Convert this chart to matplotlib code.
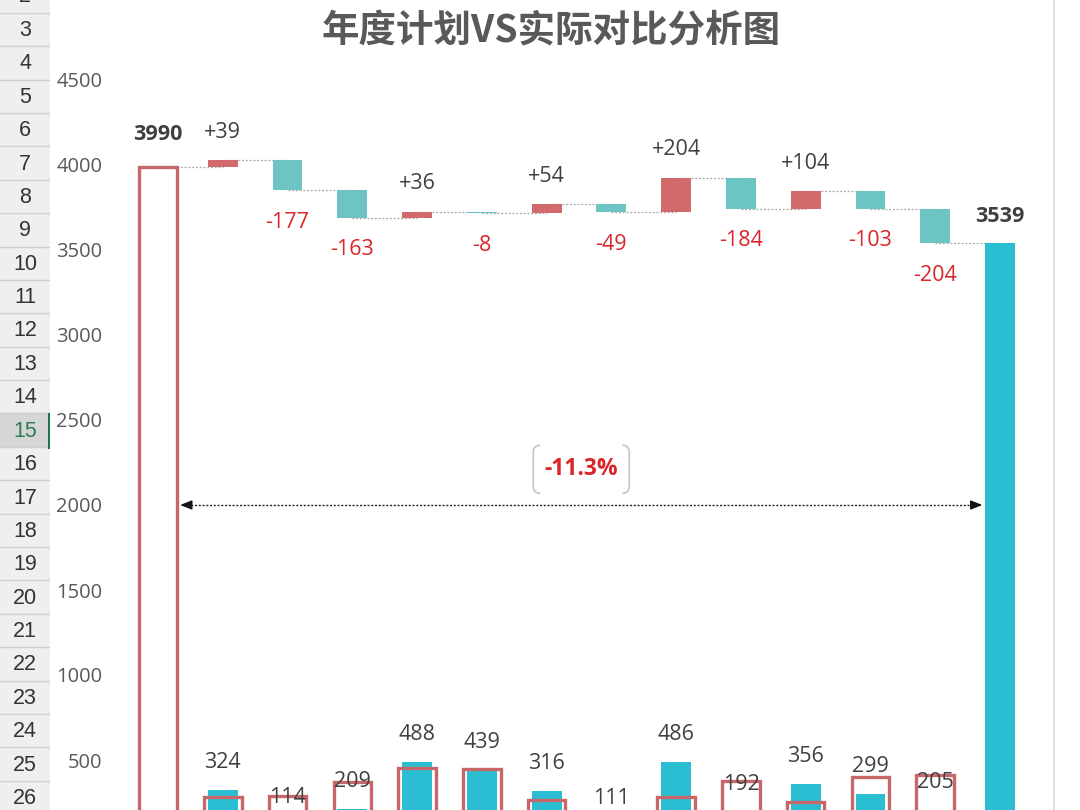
import matplotlib
matplotlib.use("Agg")
import matplotlib.pyplot as plt
import numpy as np
from matplotlib.path import Path
from matplotlib.patches import PathPatch, Rectangle
from matplotlib.transforms import IdentityTransform

plt.rcParams['font.family'] = ['Open Sans', 'Noto Sans CJK SC', 'DejaVu Sans']

# ---------------- data ----------------
title = "年度计划VS实际对比分析图"
plan = [285, 291, 372, 452, 447, 262, 160, 282, 376, 252, 402, 409]
actual = [324, 114, 209, 488, 439, 316, 111, 486, 192, 356, 299, 205]
yticks = [500, 1000, 1500, 2000, 2500, 3000, 3500, 4000, 4500]
row_numbers = list(range(2, 27))
selected_row = 15

plan_total = sum(plan)
actual_total = sum(actual)
diff = [a - p for a, p in zip(actual, plan)]
pct = (actual_total - plan_total) / plan_total * 100

# ---------------- style ----------------
C_UP = "#D26A6C"
C_DOWN = "#6CC5C2"
C_ACT = "#2BBDD1"
C_PLAN_EDGE = "#C8676A"
C_NEG_TXT = "#D8262B"
C_TXT = "#404040"
C_TICK = "#595959"
LBL = 15.5

W, H = 1080, 810
DPI = 100
fig = plt.figure(figsize=(W / DPI, H / DPI), dpi=DPI)
fig.patch.set_facecolor("white")

# pixel geometry of the plot
x0_px, x1_px = 105, 1054
top_px, bot_px = 60, 810
cx0, step = 158.0, 64.77          # pixel centre of first category, spacing
zero_px, ppu = 845.0, 0.17        # pixel of value 0, pixels per unit

ax = fig.add_axes([x0_px / W, 1 - bot_px / H, (x1_px - x0_px) / W, (bot_px - top_px) / H])
ax.set_xlim((x0_px - cx0) / step, (x1_px - cx0) / step)
ax.set_ylim((zero_px - bot_px) / ppu, (zero_px - top_px) / ppu)
ax.set_facecolor("none")
for s in ax.spines.values():
    s.set_visible(False)
ax.set_xticks([])
ax.set_yticks(yticks)
ax.set_yticklabels([str(t) for t in yticks])
ax.tick_params(axis='y', length=0, pad=2, labelsize=14.5, labelcolor=C_TICK)

n = len(plan)
idx = np.arange(1, n + 1)
w_act = 0.46
w_plan = 0.58
lw_plan = 2.4

# --- bottom bars: actual (filled) and plan (outline) ---
ax.bar(idx, actual, width=w_act, color=C_ACT, zorder=2)
ax.bar(idx, plan, width=w_plan, facecolor="none", edgecolor=C_PLAN_EDGE, linewidth=lw_plan, zorder=3)
for i, a in zip(idx, actual):
    ax.annotate(str(a), (i, a), xytext=(0, 20), textcoords="offset points",
                ha="center", va="center", fontsize=LBL, color=C_TXT, zorder=5,
                annotation_clip=False)

# --- totals ---
ax.bar([0], [plan_total], width=w_plan, facecolor="white", edgecolor=C_PLAN_EDGE, linewidth=lw_plan, zorder=3)
ax.bar([n + 1], [actual_total], width=w_act, color=C_ACT, zorder=2)
ax.annotate(str(plan_total), (0, plan_total), xytext=(0, 23), textcoords="offset points",
            ha="center", va="center", fontsize=15.5, fontweight="bold", color=C_TXT)
ax.annotate(str(actual_total), (n + 1, actual_total), xytext=(0, 19), textcoords="offset points",
            ha="center", va="center", fontsize=15.5, fontweight="bold", color=C_TXT)

# --- waterfall ---
level = plan_total
levels = [level]
for i, d in zip(idx, diff):
    bottom = level if d >= 0 else level + d
    ax.bar([i], [abs(d)], bottom=bottom, width=w_act, color=C_UP if d >= 0 else C_DOWN, zorder=2)
    if d >= 0:
        ax.annotate(f"+{d}", (i, level + d), xytext=(0, 20), textcoords="offset points",
                    ha="center", va="center", fontsize=LBL, color=C_TXT)
    else:
        ax.annotate(f"{d}", (i, level + d), xytext=(0, -23), textcoords="offset points",
                    ha="center", va="center", fontsize=LBL, color=C_NEG_TXT)
    level += d
    levels.append(level)

# connectors
for k in range(len(levels)):
    ax.plot([k, k + 1], [levels[k], levels[k]], linestyle=(0, (1.5, 1.5)), color="#A6A6A6",
            linewidth=0.9, zorder=1)

# --- change arrow ---
arrow_y = 2000
xa, xb = 0 + w_plan / 2 + 0.01, n + 1 - w_act / 2
ax.plot([xa + 0.15, xb - 0.15], [arrow_y, arrow_y], linestyle=(0, (1.5, 1.2)), color="#222222",
        linewidth=1.0, zorder=4)
ax.annotate("", xy=(xa, arrow_y), xytext=(xa + 0.25, arrow_y),
            arrowprops=dict(arrowstyle="-|>,head_length=0.7,head_width=0.28", color="#111111", lw=1.0))
ax.annotate("", xy=(xb, arrow_y), xytext=(xb - 0.25, arrow_y),
            arrowprops=dict(arrowstyle="-|>,head_length=0.7,head_width=0.28", color="#111111", lw=1.0))

xm = (xa + xb) / 2
ym = 2210
ax.text(xm, ym, f"{pct:.1f}%", ha="center", va="center", fontsize=16.5, fontweight="bold",
        color=C_NEG_TXT, zorder=5)

# bracket-style box around the percentage (pixel space)
fig.canvas.draw()
px, py = ax.transData.transform((xm, ym))
hw, hh, r = 48, 24, 7
for sgn in (-1, 1):
    xe = px + sgn * hw
    verts = [(xe - sgn * r, py + hh), (xe, py + hh), (xe, py + hh - r),
             (xe, py - hh + r), (xe, py - hh), (xe - sgn * r, py - hh)]
    codes = [Path.MOVETO, Path.CURVE3, Path.CURVE3, Path.LINETO, Path.CURVE3, Path.CURVE3]
    fig.add_artist(PathPatch(Path(verts, codes), facecolor="none", edgecolor="#C8C8C8",
                             linewidth=1.3, transform=IdentityTransform()))

# --- title ---
fig.text(551 / W, 1 - 31 / H, title, ha="center", va="center", fontsize=27, fontweight="bold",
         color="#595959", family=["Noto Sans CJK SC", "DejaVu Sans"])

# --- chart area right border ---
fig.add_artist(plt.Line2D([x1_px / W, x1_px / W], [0, 1], color="#D9D9D9", linewidth=1.2))

# --- spreadsheet row header ---
hax = fig.add_axes([0, 0, 50 / W, 1])
hax.set_xlim(0, 50)
hax.set_ylim(H, 0)
hax.axis("off")
row_h = 33.4
first_top = 12.7 - row_h
for k, rn in enumerate(row_numbers):
    t = first_top + k * row_h
    sel = rn == selected_row
    hax.add_patch(Rectangle((0, t), 50, row_h, facecolor="#D6D6D6" if sel else "#EFEFEF",
                            edgecolor="none"))
    hax.plot([0, 50], [t + row_h, t + row_h], color="#D0D0D0", linewidth=1.0)
    hax.text(25, t + row_h / 2 + 1, str(rn), ha="center", va="center", fontsize=15.5,
             color="#2E7D55" if sel else "#333333", family=["Liberation Sans", "DejaVu Sans"])
    if sel:
        hax.plot([49, 49], [t, t + row_h], color="#217346", linewidth=2.2)
hax.plot([49.6, 49.6], [0, H], color="#C8C8C8", linewidth=1.0, zorder=0)

fig.savefig("out.png", dpi=DPI, facecolor="white")
